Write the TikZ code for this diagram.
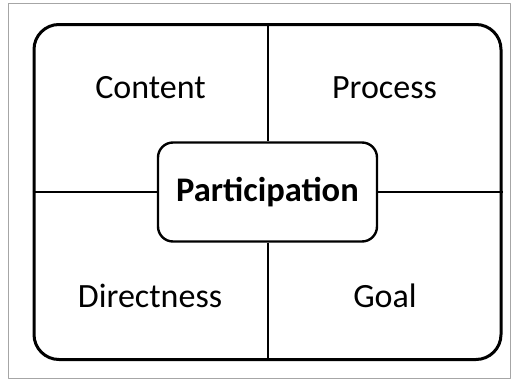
\documentclass[tikz,border=0pt]{standalone}
\usepackage{fontspec}
\setmainfont{Carlito}
\begin{document}
\begin{tikzpicture}[x=1pt, y=-1pt, line join=round,
  quad/.style={font=\fontsize{34}{40}\selectfont, inner sep=0pt, anchor=base},
  field/.style={draw, line width=3pt, rounded corners=25pt, minimum width=467pt, minimum height=335pt, inner sep=0pt},
  core/.style={draw, line width=2.4pt, rounded corners=15pt, minimum width=219pt, minimum height=99pt, inner sep=0pt, font=\fontsize{34.5}{40}\selectfont\bfseries}]
\useasboundingbox (0,0) rectangle (511,380);
\draw[gray!70, line width=1pt] (8,3) rectangle (510,378);

\node[field] (frame) at (267.5,192) {};
\node[core, fill=white] (part) at (267.5,192) {Participation};

\draw[line width=2pt] (frame.north) -- (part.north);
\draw[line width=2pt] (part.south) -- (frame.south);
\draw[line width=2pt] (frame.west) -- (part.west);
\draw[line width=2pt] (part.east) -- (frame.east);

\node[quad] (content) at (150.5,98) {Content};
\node[quad] (process) at (384.5,98) {Process};
\node[quad] (direct) at (150,307) {Directness};
\node[quad] (goal) at (385,307) {Goal};
\end{tikzpicture}
\end{document}
